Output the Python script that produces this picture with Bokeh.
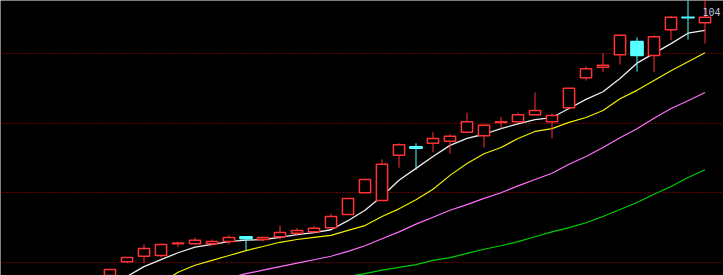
from bokeh.plotting import figure
from bokeh.models import Range1d, FixedTicker, Label, ColumnDataSource
from bokeh.embed import file_html
from bokeh.resources import INLINE

# ---- data ----
opens  = [6.67, 7.01, 7.09, 7.10, 7.27, 7.27, 7.27, 7.30, 7.37, 7.33, 7.37, 7.42, 7.44, 7.50, 7.69, 8.00, 7.89, 8.54,
          8.66, 8.71, 8.74, 8.87, 8.82, 9.01, 9.02, 9.12, 9.02, 9.22, 9.65, 9.80, 9.98, 10.17, 9.97, 10.34, 10.52, 10.44]
closes = [6.90, 7.07, 7.20, 7.26, 7.28, 7.32, 7.30, 7.36, 7.34, 7.36, 7.43, 7.46, 7.49, 7.66, 7.92, 8.19, 8.41, 8.69,
          8.64, 8.78, 8.81, 9.02, 8.97, 9.02, 9.12, 9.18, 9.11, 9.50, 9.78, 9.83, 10.26, 9.97, 10.24, 10.52, 10.51, 10.52]
highs  = [6.91, 7.07, 7.26, 7.27, 7.30, 7.36, 7.33, 7.39, 7.37, 7.37, 7.53, 7.49, 7.52, 7.70, 7.92, 8.19, 8.48, 8.71,
          8.71, 8.87, 8.84, 9.15, 8.98, 9.09, 9.15, 9.44, 9.14, 9.50, 9.81, 10.00, 10.26, 10.23, 10.26, 10.54, 10.83, 10.83]
lows   = [6.60, 6.99, 6.99, 7.07, 7.22, 7.26, 7.24, 7.26, 7.17, 7.30, 7.33, 7.39, 7.43, 7.50, 7.69, 8.00, 7.89, 8.36,
          8.33, 8.58, 8.56, 8.87, 8.65, 8.92, 9.02, 9.12, 8.78, 9.22, 9.61, 9.73, 9.84, 9.74, 9.73, 10.19, 10.20, 10.14]

ma_white   = [6.67, 6.80, 6.94, 7.04, 7.14, 7.22, 7.26, 7.30, 7.32, 7.33, 7.36, 7.40, 7.43, 7.47, 7.60, 7.75, 7.95, 8.18,
              8.35, 8.52, 8.68, 8.78, 8.84, 8.92, 8.99, 9.05, 9.08, 9.21, 9.34, 9.45, 9.64, 9.86, 10.00, 10.14, 10.29, 10.33]
ma_yellow  = [6.38, 6.48, 6.60, 6.70, 6.86, 6.96, 7.03, 7.10, 7.17, 7.23, 7.29, 7.33, 7.36, 7.39, 7.46, 7.53, 7.66, 7.77,
              7.90, 8.05, 8.25, 8.42, 8.56, 8.65, 8.78, 8.88, 8.92, 9.01, 9.08, 9.18, 9.35, 9.47, 9.61, 9.75, 9.88, 10.01]
ma_magenta = [6.45, 6.50, 6.54, 6.58, 6.63, 6.68, 6.73, 6.78, 6.84, 6.89, 6.94, 6.99, 7.04, 7.09, 7.16, 7.24, 7.34, 7.44,
              7.55, 7.65, 7.75, 7.83, 7.92, 8.00, 8.10, 8.19, 8.28, 8.41, 8.52, 8.65, 8.79, 8.92, 9.07, 9.21, 9.32, 9.44]
ma_green   = [6.31, 6.34, 6.37, 6.40, 6.43, 6.47, 6.50, 6.53, 6.57, 6.60, 6.63, 6.67, 6.70, 6.74, 6.80, 6.84, 6.89, 6.93,
              6.97, 7.03, 7.07, 7.13, 7.19, 7.24, 7.30, 7.37, 7.44, 7.50, 7.57, 7.66, 7.76, 7.86, 7.98, 8.09, 8.22, 8.33]

grid_levels = [7, 8, 9, 10]
top_label = "104"

# ---- styling ----
UP = "#ff3333"
DOWN = "#55ffff"

n = len(opens)
idx = list(range(n))
up = [c >= o for o, c in zip(opens, closes)]

def subset(mask):
    xs = [i for i in idx if mask[i]]
    return dict(
        x=xs,
        top=[max(opens[i], closes[i]) for i in xs],
        bottom=[min(opens[i], closes[i]) for i in xs],
        high=[highs[i] for i in xs],
        low=[lows[i] for i in xs],
    )

src_up = ColumnDataSource(subset(up))
src_dn = ColumnDataSource(subset([not u for u in up]))

p = figure(width=723, height=275, output_backend="svg", toolbar_location=None,
           x_range=Range1d(-109.5 / 17, (723 - 109.5) / 17),
           y_range=Range1d(6.8135, 10.759),
           min_border=0, min_border_left=0, min_border_right=0,
           min_border_top=0, min_border_bottom=0)
p.background_fill_color = "black"
p.border_fill_color = "black"
p.outline_line_color = None
p.xaxis.visible = False
p.yaxis.visible = False
p.xgrid.visible = False
p.ygrid.ticker = FixedTicker(ticks=grid_levels)
p.ygrid.grid_line_color = "#c00000"
p.ygrid.grid_line_dash = "1 2"
p.ygrid.grid_line_width = 1

# moving averages
p.line(idx, ma_green, line_color="#00d000", line_width=1.2)
p.line(idx, ma_magenta, line_color="#ff70ff", line_width=1.2)
p.line(idx, ma_yellow, line_color="#f0f000", line_width=1.2)
p.line(idx, ma_white, line_color="#eeeeee", line_width=1.3)

# candles: wicks
p.segment(x0="x", y0="high", x1="x", y1="low", source=src_up, line_color=UP, line_width=1)
p.segment(x0="x", y0="high", x1="x", y1="low", source=src_dn, line_color=DOWN, line_width=1)
# bodies
p.vbar(x="x", width=0.66, top="top", bottom="bottom", source=src_up,
       fill_color="black", line_color=UP, line_width=1.5)
p.vbar(x="x", width=0.72, top="top", bottom="bottom", source=src_dn,
       fill_color=DOWN, line_color=DOWN, line_width=1.5)

lbl = Label(x=720, y=264, x_units="screen", y_units="screen", text=top_label,
            text_color="#b8c0d8", text_font_size="10px", text_font="DejaVu Sans Mono",
            text_align="right", text_baseline="alphabetic")
p.add_layout(lbl)

open("out.html", "w").write(file_html(p, INLINE))
